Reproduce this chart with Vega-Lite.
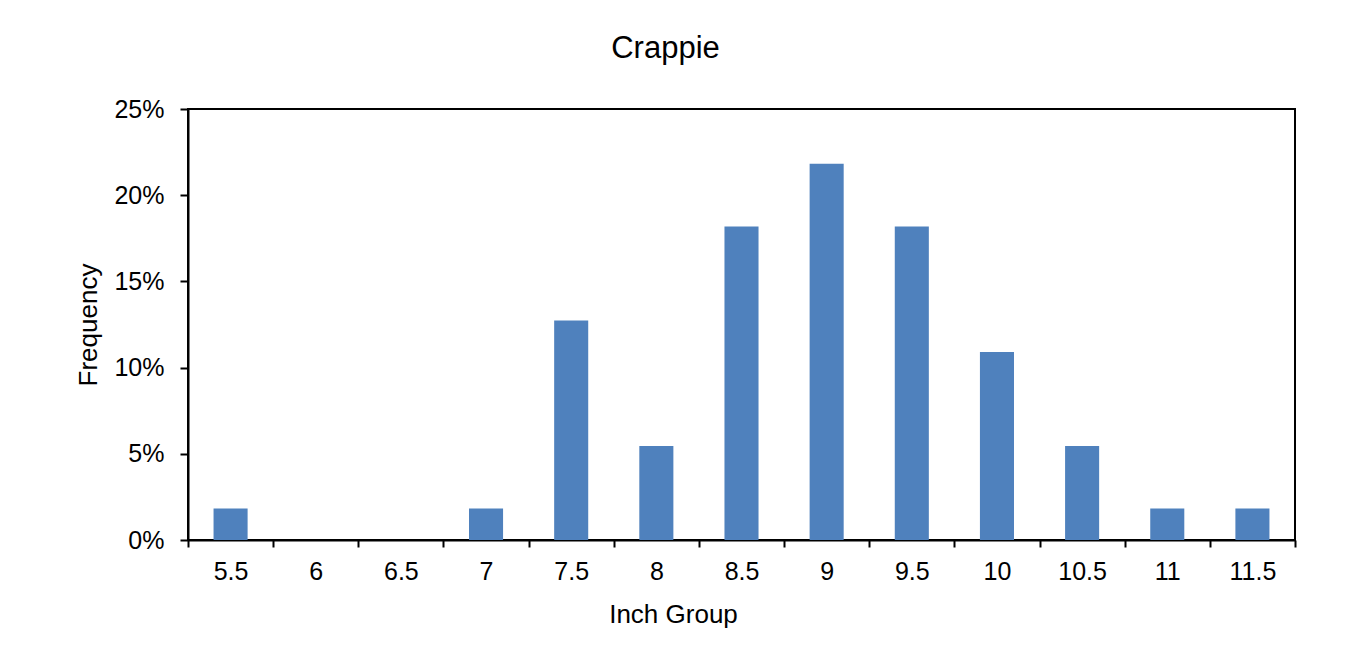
{
  "$schema": "https://vega.github.io/schema/vega-lite/v6.json",
  "width": 1107,
  "height": 431,
  "autosize": {"type": "none"},
  "padding": {"left": 188, "top": 109, "right": 74, "bottom": 112},
  "background": "white",
  "title": {
    "text": "Crappie",
    "font": "Liberation Sans",
    "fontSize": 31,
    "fontWeight": "normal",
    "color": "black",
    "anchor": "middle",
    "dx": -76,
    "offset": 32
  },
  "data": {
    "values": [
      {"group": "5.5", "freq": 0.0182},
      {"group": "6", "freq": 0},
      {"group": "6.5", "freq": 0},
      {"group": "7", "freq": 0.0182},
      {"group": "7.5", "freq": 0.1273},
      {"group": "8", "freq": 0.0545},
      {"group": "8.5", "freq": 0.1818},
      {"group": "9", "freq": 0.2182},
      {"group": "9.5", "freq": 0.1818},
      {"group": "10", "freq": 0.1091},
      {"group": "10.5", "freq": 0.0545},
      {"group": "11", "freq": 0.0182},
      {"group": "11.5", "freq": 0.0182}
    ]
  },
  "mark": {"type": "bar", "color": "#4F81BD", "width": {"band": 0.4}},
  "encoding": {
    "x": {
      "field": "group",
      "type": "ordinal",
      "sort": ["5.5","6","6.5","7","7.5","8","8.5","9","9.5","10","10.5","11","11.5"],
      "scale": {"paddingInner": 0, "paddingOuter": 0},
      "axis": {
        "title": "Inch Group",
        "titleX": 485,
        "labelAngle": 0,
        "tickBand": "extent",
        "tickSize": 7,
        "tickWidth": 2,
        "tickColor": "black",
        "domainColor": "black",
        "domainWidth": 2,
        "labelFont": "Liberation Sans",
        "labelFontSize": 25,
        "labelColor": "black",
        "labelPadding": 12,
        "titleFont": "Liberation Sans",
        "titleFontSize": 26,
        "titleFontWeight": "normal",
        "titleColor": "black",
        "titlePadding": 17
      }
    },
    "y": {
      "field": "freq",
      "type": "quantitative",
      "scale": {"domain": [0, 0.25]},
      "axis": {
        "title": "Frequency",
        "format": ".0%",
        "values": [0, 0.05, 0.1, 0.15, 0.2, 0.25],
        "grid": false,
        "tickSize": 8,
        "tickWidth": 2,
        "tickColor": "black",
        "domainColor": "black",
        "domainWidth": 2,
        "labelFont": "Liberation Sans",
        "labelFontSize": 25,
        "labelColor": "black",
        "labelPadding": 16,
        "titleFont": "Liberation Sans",
        "titleFontSize": 26,
        "titleFontWeight": "normal",
        "titleColor": "black",
        "titlePadding": 12
      }
    }
  },
  "config": {
    "view": {"stroke": "black", "strokeWidth": 2}
  }
}
